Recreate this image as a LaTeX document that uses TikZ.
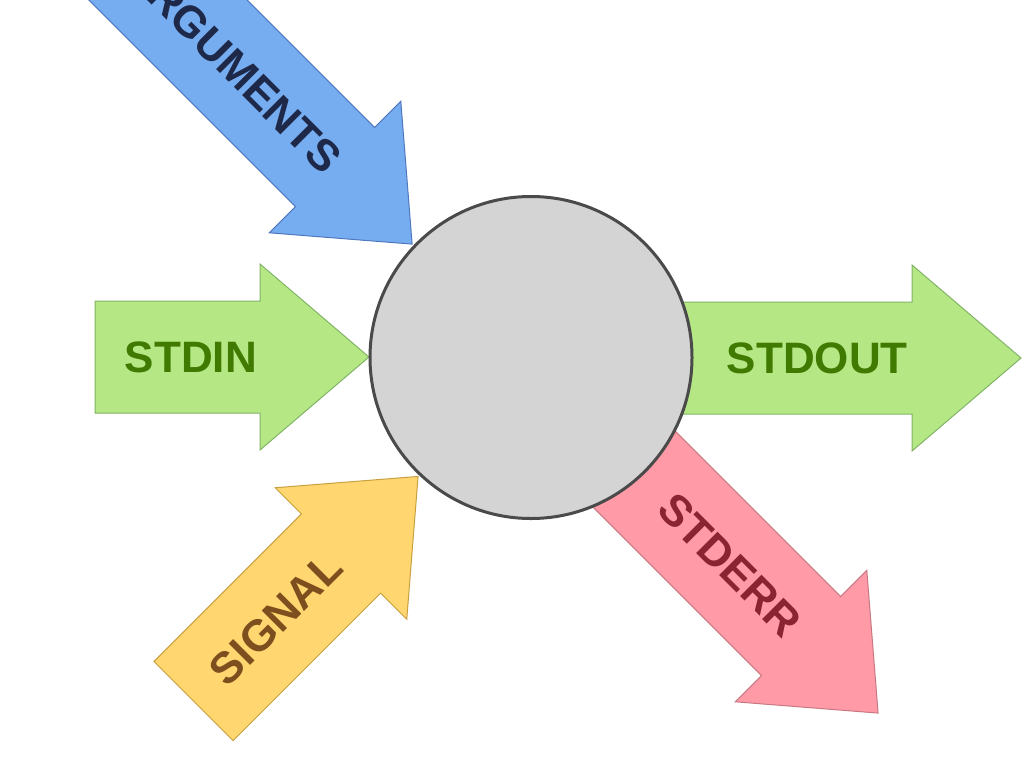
\documentclass[tikz,border=0pt]{standalone}
\usepackage{fontspec}
\setmainfont{Liberation Sans}
\definecolor{greenfill}{RGB}{181,232,133}
\definecolor{greendraw}{RGB}{130,179,102}
\definecolor{greentext}{RGB}{64,122,0}
\definecolor{bluefill}{RGB}{118,172,240}
\definecolor{bluedraw}{RGB}{80,120,190}
\definecolor{bluetext}{RGB}{30,40,72}
\definecolor{yellowfill}{RGB}{255,214,112}
\definecolor{yellowdraw}{RGB}{200,160,64}
\definecolor{yellowtext}{RGB}{125,78,30}
\definecolor{pinkfill}{RGB}{255,154,166}
\definecolor{pinkdraw}{RGB}{200,120,130}
\definecolor{pinktext}{RGB}{138,36,50}
\definecolor{procfill}{RGB}{212,212,212}
\definecolor{procdraw}{RGB}{74,74,74}
\tikzset{
  arrowline/.style={line width=1pt, line join=miter},
  arrowlabel/.style={inner sep=0pt, font=\fontsize{44}{50}\selectfont\bfseries},
  procstyle/.style={circle, draw=procdraw, fill=procfill, line width=3pt, minimum size=322pt, inner sep=0pt}
}
% #1 name, #2 tail, #3 angle, #4 body length, #5 fill, #6 draw, #7 text colour, #8 text, #9 text end gap
\newcommand{\bigarrow}[9]{%
  \begin{scope}[shift={#2}, rotate=#3]
    \path[arrowline, draw=#6, fill=#5] (0,-56) -- (#4,-56) -- (#4,-93) -- ({#4+109},0)
      -- (#4,93) -- (#4,56) -- (0,56) -- cycle;
    \coordinate (#1-tip) at ({#4+109},0);
    \node[arrowlabel, text=#7, rotate=#3, anchor=east] (#1) at ({#4-#9},0) {#8};
  \end{scope}}
\begin{document}
\begin{tikzpicture}[x=1pt, y=-1pt]
  \useasboundingbox (0,0) rectangle (1024,782);
  \clip (0,0) rectangle (1024,782);
  \bigarrow{args}{(52.2,-115.8)}{-45}{400}{bluefill}{bluedraw}{bluetext}{ARGUMENTS}{1.5}
  \bigarrow{stdin}{(95,357)}{0}{165}{greenfill}{greendraw}{greentext}{STDIN}{3}
  \bigarrow{signal}{(193.5,701)}{45}{208.6}{yellowfill}{yellowdraw}{yellowtext}{SIGNAL}{9}
  \bigarrow{stdout}{(531,358)}{0}{381}{greenfill}{greendraw}{greentext}{STDOUT}{4}
  \bigarrow{stderr}{(526.8,361.8)}{-45}{387.8}{pinkfill}{pinkdraw}{pinktext}{STDERR}{10}
  \node[procstyle] (process) at (531,357.5) {};
\end{tikzpicture}
\end{document}
